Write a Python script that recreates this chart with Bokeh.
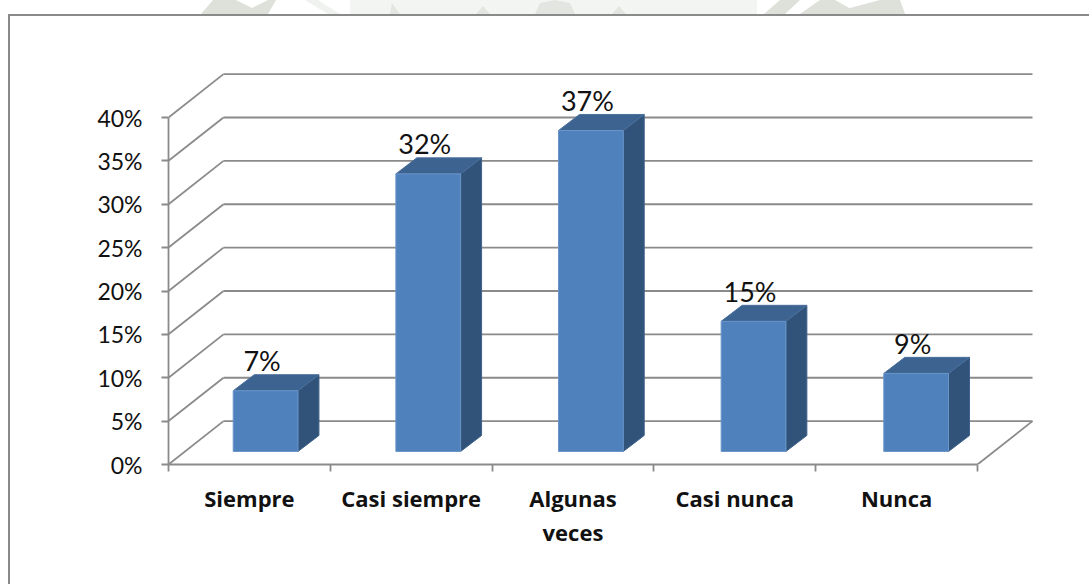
from urllib.parse import quote
from bokeh.embed import file_html
from bokeh.resources import INLINE
from bokeh.plotting import figure
from bokeh.models import (ColumnDataSource, FixedTicker, LinearAxis,
                          PrintfTickFormatter, Range1d)
from bokeh.core.properties import value

categories = ["Siempre", "Casi siempre", "Algunas\nveces", "Casi nunca", "Nunca"]
percentages = [7, 32, 37, 15, 9]
y_ticks = [0, 5, 10, 15, 20, 25, 30, 35, 40]

PX_X = 161.8   # px per category
PX_Y = 8.675   # px per percent
WALL_DX = 55 / PX_X
WALL_DY = 5
FLOOR = 1.5
STEP = 1.0052
BAR_L = 0.40
BAR_W = 0.40
DEPTH_X = 21 / PX_X
DEPTH_Y = 1.85
GRID = "#8a8a8a"
LW = 1.8
n = len(categories)

# page backdrop: picture border and the scanned watermark that shows above it
backdrop = (
    '<svg xmlns="http://www.w3.org/2000/svg" width="1089" height="584">'
    '<rect x="350" y="0" width="407" height="14" fill="#f3f5f2"/>'
    '<polygon points="201,14 213,0 236,0 252,8 268,0 276,0 268,14" fill="#dde1d9"/>'
    '<polygon points="305,0 318,0 340,14 328,14" fill="#f0f2ef"/>'
    '<polygon points="390,14 392,3 400,14" fill="#e3e6e0"/>'
    '<polygon points="476,14 483,6 490,14" fill="#e3e6e0"/>'
    '<polygon points="535,14 540,3 555,0 570,3 575,14" fill="#e3e6e0"/>'
    '<polygon points="612,14 619,6 626,14" fill="#e3e6e0"/>'
    '<polygon points="764,14 780,0 800,0 785,14" fill="#dde1d9"/>'
    '<polygon points="800,14 820,0 835,0 860,14" fill="#dde1d9"/>'
    '<polygon points="850,8 880,0 900,0 905,14 850,14" fill="#dde1d9"/>'
    f'<rect x="8" y="14" width="1081" height="2" fill="{GRID}"/>'
    f'<rect x="8" y="14" width="2" height="570" fill="{GRID}"/>'
    '</svg>'
)

p = figure(width=1089, height=584, output_backend="svg", toolbar_location=None,
           x_axis_location=None, y_axis_location=None,
           x_range=Range1d(0, 921 / PX_X), y_range=Range1d(0, 464 / PX_Y),
           min_border_left=168, min_border_right=0, min_border_top=0, min_border_bottom=120,
           background_fill_color=None, border_fill_color=None)
p.styles = {"background-image": "url(\"data:image/svg+xml," + quote(backdrop) + "\")",
            "background-repeat": "no-repeat", "background-color": "white"}
p.outline_line_color = None
p.grid.visible = False

# axes
ya = LinearAxis(ticker=FixedTicker(ticks=y_ticks), formatter=PrintfTickFormatter(format="%d%%"),
                bounds=(0, 40))
ya.axis_line_color = GRID; ya.axis_line_width = LW
ya.major_tick_line_color = GRID; ya.major_tick_line_width = LW
ya.major_tick_out = 7; ya.major_tick_in = 0
ya.minor_tick_line_color = None
ya.major_label_standoff = 19
ya.major_label_text_font = "Lato"
ya.major_label_text_font_size = "23px"
ya.major_label_text_color = "#111111"
p.add_layout(ya, "left")

xa = LinearAxis(ticker=FixedTicker(ticks=[i + 0.5 for i in range(n)], minor_ticks=list(range(n + 1))),
                bounds=(0, n))
xa.major_label_overrides = {i + 0.5: c for i, c in enumerate(categories)}
xa.axis_line_color = GRID; xa.axis_line_width = LW
xa.major_tick_line_color = None
xa.minor_tick_line_color = GRID; xa.minor_tick_line_width = LW
xa.minor_tick_out = 7; xa.minor_tick_in = 0
xa.major_tick_out = 0; xa.major_tick_in = 0
xa.major_label_standoff = 11
xa.major_label_text_font = "Open Sans"
xa.major_label_text_font_style = "bold"
xa.major_label_text_font_size = "22px"
xa.major_label_text_color = "#111111"
xa.major_label_text_line_height = 1.14
p.add_layout(xa, "below")

# back wall and floor lines
p.segment(x0=[WALL_DX] * len(y_ticks), x1=[n + WALL_DX] * len(y_ticks),
          y0=[t + WALL_DY for t in y_ticks], y1=[t + WALL_DY for t in y_ticks],
          line_color=GRID, line_width=LW)
p.segment(x0=[0] * len(y_ticks), x1=[WALL_DX] * len(y_ticks),
          y0=y_ticks, y1=[t + WALL_DY for t in y_ticks],
          line_color=GRID, line_width=LW)
p.segment(x0=[n], x1=[n + WALL_DX], y0=[0], y1=[WALL_DY], line_color=GRID, line_width=LW)

# bars
lefts = [i * STEP + BAR_L for i in range(n)]
rights = [l + BAR_W for l in lefts]
tops = [v + FLOOR for v in percentages]
top_xs = [[l, r, r + DEPTH_X, l + DEPTH_X] for l, r in zip(lefts, rights)]
top_ys = [[t, t, t + DEPTH_Y, t + DEPTH_Y] for t in tops]
side_xs = [[r, r + DEPTH_X, r + DEPTH_X, r] for r in rights]
side_ys = [[FLOOR, FLOOR + DEPTH_Y, t + DEPTH_Y, t] for t in tops]
p.patches(side_xs, side_ys, fill_color="#325379", line_color="#3f628c", line_width=1)
p.patches(top_xs, top_ys, fill_color="#3d6391", line_color="#4a6f9c", line_width=1)
p.quad(left=lefts, right=rights, bottom=[FLOOR] * n, top=tops,
       fill_color="#4f81bd", line_color="#6a95c9", line_width=1)

# data labels
src = ColumnDataSource(dict(x=[(l + r) / 2 - 3.5 / PX_X for l, r in zip(lefts, rights)],
                            y=[t + DEPTH_Y - 0.3 for t in tops],
                            t=[f"{v}%" for v in percentages]))
p.text("x", "y", text="t", source=src, text_font=value("Lato"), text_font_size="27px",
       text_color="#111111", text_align="center", text_baseline="bottom")

open("out.html", "w").write(file_html(p, INLINE))
